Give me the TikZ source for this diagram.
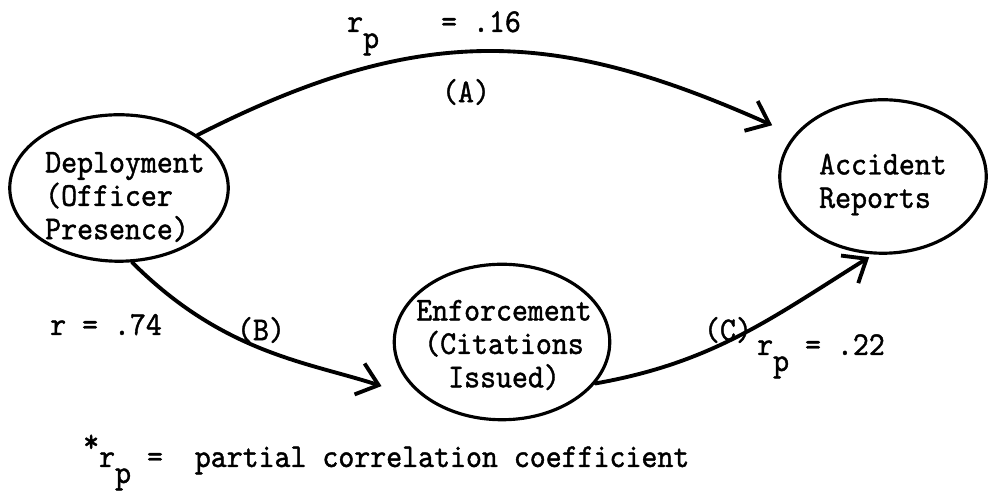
\documentclass[tikz,border=0pt]{standalone}
\usepackage{fontspec}
\usepackage{tikz}
\usetikzlibrary{arrows.meta,shapes.geometric}
\newfontfamily\twfont{lmmono10-regular.otf}[FakeStretch=0.91,FakeBold=1.2]
\newcommand{\rsubp}{r\raisebox{-0.32cm}{p}}
\tikzset{
  tw/.style={font=\fontsize{19}{19}\selectfont\twfont},
  blob/.style={ellipse,draw,line width=1.8pt},
  blobtext/.style={tw,inner sep=0pt},
  link/.style={->,line width=2.2pt,line cap=round},
}

\begin{document}
\begin{tikzpicture}[>={Straight Barb[length=4mm,width=6.5mm]}]
  \useasboundingbox (0,0) rectangle (19.8,9.82);
  % the three variables
  \node[blob,minimum width=4.37cm,minimum height=2.93cm,
    label={[blobtext,align=left,xshift=0.12cm,yshift=-0.18cm]center:{Deployment\\(Officer\\Presence)}}] (deploy) at (2.38,6.06) {};
  \node[blob,minimum width=4.13cm,minimum height=3.07cm,
    label={[blobtext,align=left,yshift=-0.16cm]center:{Accident\\Reports}}] (accident) at (17.66,6.29) {};
  \node[blob,minimum width=4.31cm,minimum height=3.11cm,
    label={[blobtext,align=center,xshift=0.04cm,yshift=-0.06cm]center:{Enforcement\\(Citations\\Issued)}}] (enforce) at (10.04,2.98) {};
  % paths
  \draw[link,shorten >=0.48cm] (deploy.34) to[out=27,in=156,looseness=1.1] (accident.155);
  \draw[link,shorten >=1.03cm] (deploy.-80) to[out=-45,in=162] (enforce.220);
  \draw[link,shorten >=0.1cm] (enforce.-24) to[out=10,in=212] (accident.263);
  % coefficients
  \node[tw] (labA) at (9.32,7.98) {(A)};
  \node[tw] (labB) at (5.22,3.22) {(B)};
  \node[tw] (labC) at (14.56,3.22) {(C)};
  \node[tw,anchor=base west] (rA) at (6.82,9.18) {\rsubp\hspace{1.24cm}= .16};
  \node[tw,anchor=base west] (rB) at (0.88,3.12) {r = .74};
  \node[tw,anchor=base west] (rC) at (15.02,2.72) {\rsubp\ = .22};
  \node[tw,anchor=base west] (key) at (1.54,0.48) {\raisebox{0.3cm}{*}\rsubp\ =\ \ partial correlation coefficient};
\end{tikzpicture}
\end{document}
